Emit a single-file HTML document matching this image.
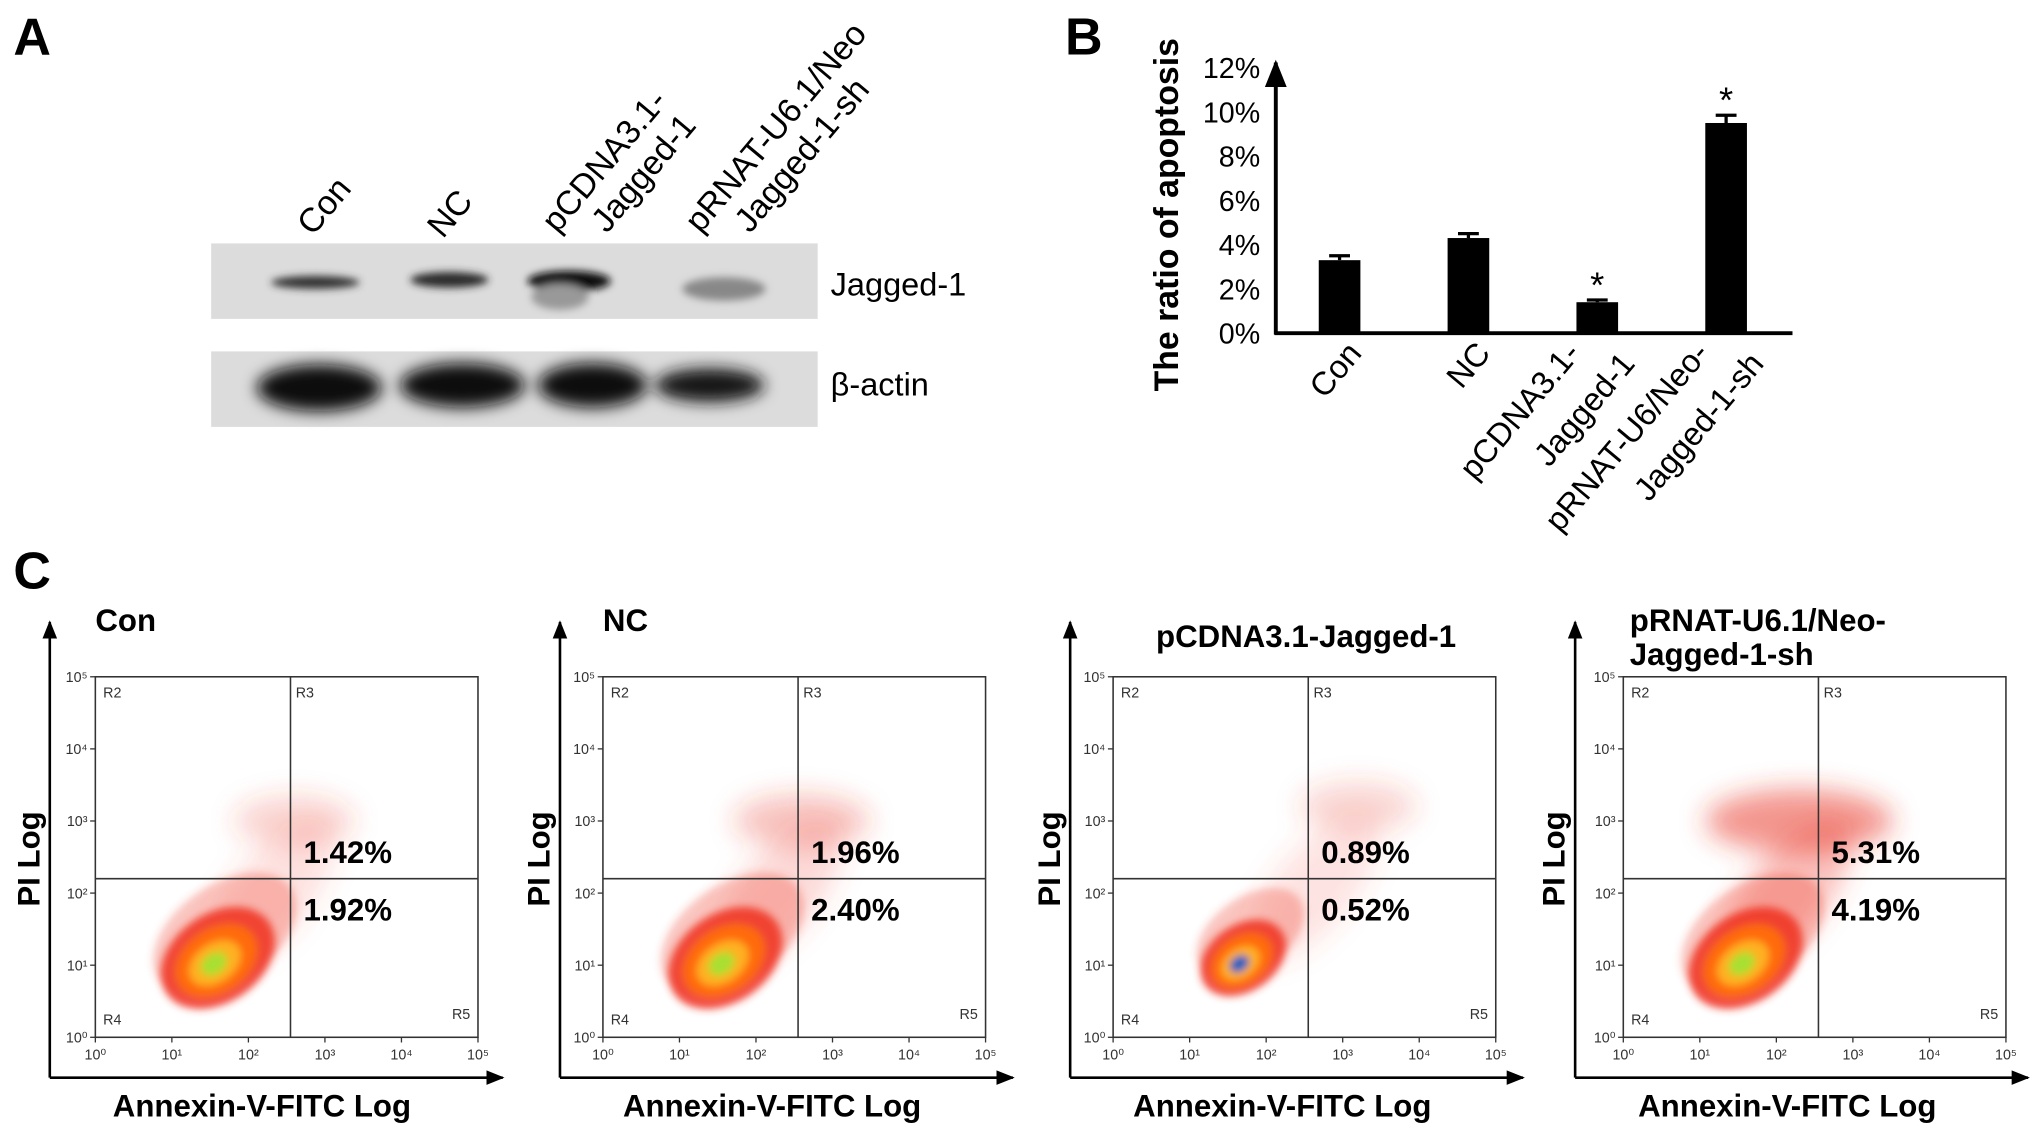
<!DOCTYPE html>
<html><head><meta charset="utf-8">
<style>
html,body{margin:0;padding:0;background:#fff;}
svg{display:block;}
text{font-family:"Liberation Sans",Arial,sans-serif;}
</style></head>
<body>
<svg id="fig" width="2031" height="1131" viewBox="0 0 1560 869" xmlns="http://www.w3.org/2000/svg">
<defs>
<filter id="blur3" x="-50%" y="-50%" width="200%" height="200%"><feGaussianBlur stdDeviation="3"/></filter>
<filter id="blur6" x="-50%" y="-50%" width="200%" height="200%"><feGaussianBlur stdDeviation="6"/></filter>
<filter id="blur10" x="-50%" y="-50%" width="200%" height="200%"><feGaussianBlur stdDeviation="10"/></filter>
<marker id="arr" viewBox="0 0 10 10" refX="9" refY="5" markerWidth="7" markerHeight="7" orient="auto"><path d="M0,1 L10,5 L0,9z" fill="#000"/></marker>
</defs>
<rect width="1560" height="869" fill="#fff"/>

<!-- Panel A -->
<g>
<text x="10" y="42" font-size="40" font-weight="bold">A</text>
<g font-size="26" fill="#000">
<text transform="translate(240,182) rotate(-50)">Con</text>
<text transform="translate(340,184) rotate(-50)">NC</text>
<text transform="translate(428,180) rotate(-50)">pCDNA3.1-</text>
<text transform="translate(466,180) rotate(-50)">Jagged-1</text>
<text transform="translate(538,180) rotate(-50)">pRNAT-U6.1/Neo</text>
<text transform="translate(576,180) rotate(-50)">Jagged-1-sh</text>
</g>
<rect x="162" y="187" width="466" height="58" fill="#dcdcdc"/>
<g filter="url(#blur3)">
<ellipse cx="242" cy="217" rx="34" ry="5" fill="#333"/>
<ellipse cx="345" cy="215" rx="30" ry="6" fill="#2a2a2a"/>
<ellipse cx="437" cy="216" rx="32" ry="8" fill="#111"/>
<ellipse cx="430" cy="228" rx="22" ry="10" fill="#999"/>
<ellipse cx="556" cy="222" rx="32" ry="9" fill="#888"/>
</g>
<rect x="162" y="270" width="466" height="58" fill="#dcdcdc"/>
<g filter="url(#blur6)">
<ellipse cx="245" cy="298" rx="48" ry="18" fill="#080808"/>
<ellipse cx="355" cy="296" rx="48" ry="17" fill="#0c0c0c"/>
<ellipse cx="455" cy="296" rx="42" ry="17" fill="#101010"/>
<ellipse cx="545" cy="296" rx="42" ry="13" fill="#181818"/>
</g>
<text x="638" y="227" font-size="25">Jagged-1</text>
<text x="638" y="304" font-size="25">β-actin</text>
</g>

<!-- Panel B -->
<g id="panelB">
<text x="818" y="42" font-size="40" font-weight="bold">B</text>
<text transform="translate(905,165) rotate(-90)" text-anchor="middle" font-size="26" font-weight="bold">The ratio of apoptosis</text>
</g>

<!-- Panel C -->
<g id="panelC">
<text x="10" y="452" font-size="40" font-weight="bold">C</text>
</g>
</svg>
<script>
// ---------- Panel B data ----------
const barCategories = ["Con", "NC", "pCDNA3.1-Jagged-1", "pRNAT-U6/Neo-Jagged-1-sh"];
const barValues = [3.3, 4.3, 1.4, 9.5];
const barErrors = [0.2, 0.2, 0.1, 0.35];
const barSignificant = [false, false, true, true];
const yTicks = [0, 2, 4, 6, 8, 10, 12];
const xLabelLines = [["Con"], ["NC"], ["pCDNA3.1-", "Jagged-1"], ["pRNAT-U6/Neo-", "Jagged-1-sh"]];

// ---------- Panel C data ----------
const flowTitles = [["Con"], ["NC"], ["pCDNA3.1-Jagged-1"], ["pRNAT-U6.1/Neo-", "Jagged-1-sh"]];
const upperPercents = ["1.42%", "1.96%", "0.89%", "5.31%"];
const lowerPercents = ["1.92%", "2.40%", "0.52%", "4.19%"];
const clusterX = [1.6, 1.6, 1.7, 1.6];   // log10 annexin of main population
const clusterY = [1.1, 1.1, 1.1, 1.1];   // log10 PI of main population
const clusterSize = [1.0, 1.0, 0.75, 1.0];
const upperClusterX = [2.6, 2.6, 3.2, 2.3];
const upperClusterY = [3.0, 3.0, 3.2, 3.0];
const upperClusterAmt = [0.15, 0.3, 0.12, 0.8];
const logTicks = [0, 1, 2, 3, 4, 5];
const quadX = 2.55, quadY = 2.2;

const NS = "http://www.w3.org/2000/svg";
function mk(tag, attrs, parent, txt) {
  const e = document.createElementNS(NS, tag);
  for (const k in attrs) e.setAttribute(k, attrs[k]);
  if (txt !== undefined) e.textContent = txt;
  parent.appendChild(e);
  return e;
}

// Panel B
(function () {
  const g = document.getElementById("panelB");
  const x0 = 980, x1 = 1377, yBase = 256, yTop = 52, vMax = 12;
  const yS = v => yBase - (v / vMax) * (yBase - yTop);
  const xS = i => 1029 + i * 99;
  const ax = mk("line", {x1: x0, y1: yBase + 1, x2: x0, y2: yTop - 4, stroke: "#000", "stroke-width": 3, "marker-end": "url(#arr)"}, g);
  
  
  const bx = mk("line", {x1: x0 - 1, y1: yBase, x2: x1, y2: yBase, stroke: "#000", "stroke-width": 3}, g);
  
  
  yTicks.forEach(t => {
    const tl = mk("text", {x: x0 - 12, y: yS(t) + 8, "text-anchor": "end", "font-size": 22}, g, t + "%");
    
    
  });
  barValues.forEach((v, i) => {
    const cx = xS(i), w = 32;
    const r = mk("rect", {x: cx - w / 2, y: yS(v), width: w, height: yBase - yS(v), fill: "#000"}, g);
    
    
    const ey = yS(v + barErrors[i]);
    const eb = mk("path", {d: `M${cx},${yS(v)}V${ey}M${cx - 8},${ey}H${cx + 8}`, stroke: "#000", "stroke-width": 2.5, fill: "none"}, g);
    
    
    if (barSignificant[i]) {
      const s = mk("text", {x: cx, y: ey - 2, "text-anchor": "middle", "font-size": 28}, g, "*");
      
      
    }
    const lines = xLabelLines[i];
    lines.forEach((ln, j) => {
      const ex = cx + 18 - (lines.length - 1) * 30 + j * 42;
      const ey2 = yS(0) + 16 + j * 8;
      const t = mk("text", {transform: `translate(${ex},${ey2}) rotate(-50)`, "text-anchor": "end", "font-size": 25}, g, ln);
      
      
    });
  });
})();

// Panel C
(function () {
  const g = document.getElementById("panelC");
  const boxX = [73, 463, 855, 1247], arrX = [38, 430, 822, 1210];
  const bw = 294, by0 = 520, bh = 277;
  flowTitles.forEach((title, p) => {
    const pg = mk("g", {}, g);
    
    
    const X = boxX[p];
    const xS = l => X + (l / 5) * bw;
    const yS = l => by0 + bh - (l / 5) * bh;
    title.forEach((ln, j) => {
      const tx = p === 2 ? X + 33 : (p === 3 ? X + 5 : X);
      const t = mk("text", {x: tx, y: (title.length > 1 ? 485 : 485 + (p === 2 ? 12 : 0)) + j * 26, "font-size": 24, "font-weight": "bold"}, pg, ln);
      
      
    });
    // populations
    const cg = mk("g", {}, pg);
    
    
    const cx = xS(clusterX[p]), cy = yS(clusterY[p]), s = clusterSize[p];
    const ux = xS(upperClusterX[p]), uy = yS(upperClusterY[p]), ua = upperClusterAmt[p];
    // diffuse scatter halo between populations
    const hg = mk("g", {filter: "url(#blur10)"}, cg);
    mk("ellipse", {cx: (cx + ux) / 2 + 10, cy: (cy + uy) / 2 + 5, rx: 70, ry: 30, fill: "#f05040", opacity: 0.12 + 0.3 * ua, transform: `rotate(-50 ${(cx + ux) / 2 + 10} ${(cy + uy) / 2 + 5})`}, hg);
    mk("ellipse", {cx: ux, cy: uy, rx: 40 + 40 * ua, ry: 18 + 8 * ua, fill: "#e83020", opacity: 0.15 + 0.45 * ua}, hg);
    const fg = mk("g", {filter: "url(#blur3)"}, cg);
    const rot = `rotate(-35 ${cx} ${cy})`;
    mk("ellipse", {cx: cx + 15, cy: cy - 12, rx: 62 * s, ry: 38 * s, fill: "#f04030", opacity: 0.3, transform: rot}, fg);
    mk("ellipse", {cx: cx, cy: cy, rx: 48 * s, ry: 34 * s, fill: "#f03020", opacity: 0.85, transform: rot}, fg);
    mk("ellipse", {cx: cx - 2, cy: cy + 1, rx: 34 * s, ry: 24 * s, fill: "#ff6a10", transform: rot}, fg);
    mk("ellipse", {cx: cx - 4, cy: cy + 2, rx: 22 * s, ry: 15 * s, fill: "#ffb020", transform: rot}, fg);
    mk("ellipse", {cx: cx - 5, cy: cy + 2, rx: 11 * s, ry: 8 * s, fill: p === 2 ? "#1060c0" : "#a8e030", transform: rot}, fg);
    // box
    const b = mk("rect", {x: X, y: by0, width: bw, height: bh, fill: "none", stroke: "#333", "stroke-width": 1.2}, pg);
    
    
    mk("line", {x1: xS(quadX), y1: by0, x2: xS(quadX), y2: by0 + bh, stroke: "#333", "stroke-width": 1.2}, pg);
    mk("line", {x1: X, y1: yS(quadY), x2: X + bw, y2: yS(quadY), stroke: "#333", "stroke-width": 1.2}, pg);
    [["R2", X + 6, by0 + 16], ["R3", xS(quadX) + 4, by0 + 16], ["R4", X + 6, by0 + bh - 10], ["R5", X + bw - 20, by0 + bh - 14]].forEach(r => {
      const t = mk("text", {x: r[1], y: r[2], "font-size": 11, fill: "#333"}, pg, r[0]);
      
      
    });
    logTicks.forEach(l => {
      mk("line", {x1: xS(l), y1: by0 + bh, x2: xS(l), y2: by0 + bh + 4, stroke: "#333"}, pg);
      const tx = mk("text", {x: xS(l), y: by0 + bh + 17, "text-anchor": "middle", "font-size": 11, fill: "#333"}, pg, "10" + ["⁰", "¹", "²", "³", "⁴", "⁵"][l]);
      
      
      mk("line", {x1: X - 4, y1: yS(l), x2: X, y2: yS(l), stroke: "#333"}, pg);
      const ty = mk("text", {x: X - 6, y: yS(l) + 4, "text-anchor": "end", "font-size": 11, fill: "#333"}, pg, "10" + ["⁰", "¹", "²", "³", "⁴", "⁵"][l]);
      
      
    });
    const u = mk("text", {x: xS(quadX) + 10, y: yS(quadY) - 12, "font-size": 24, "font-weight": "bold"}, pg, upperPercents[p]);
    
    
    const lo = mk("text", {x: xS(quadX) + 10, y: yS(quadY) + 32, "font-size": 24, "font-weight": "bold"}, pg, lowerPercents[p]);
    
    
    const A = arrX[p];
    const va = mk("line", {x1: A, y1: 828, x2: A, y2: 478, stroke: "#000", "stroke-width": 2, "marker-end": "url(#arr)"}, pg);
    
    
    const ha = mk("line", {x1: A, y1: 828, x2: A + 348, y2: 828, stroke: "#000", "stroke-width": 2, "marker-end": "url(#arr)"}, pg);
    
    
    const yt = mk("text", {transform: `translate(${A - 8},660) rotate(-90)`, "text-anchor": "middle", "font-size": 24, "font-weight": "bold"}, pg, "PI Log");
    
    
    const xt = mk("text", {x: A + 163, y: 858, "text-anchor": "middle", "font-size": 24, "font-weight": "bold"}, pg, "Annexin-V-FITC Log");
    
    
  });
})();
</script>
</body></html>
